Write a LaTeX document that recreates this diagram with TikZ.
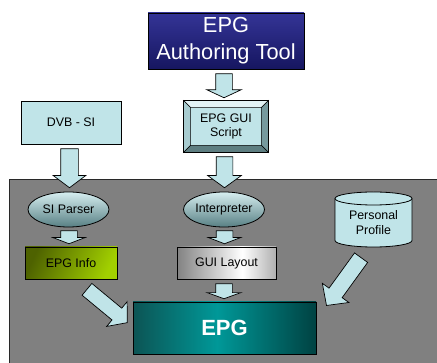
\documentclass[tikz,border=0pt]{standalone}
\usepackage{fontspec}
\setmainfont{Liberation Sans}
\usetikzlibrary{shapes.arrows,shapes.geometric,calc}

\definecolor{pale}{RGB}{192,228,232}
\definecolor{backdrop}{RGB}{128,128,128}
\definecolor{backedge}{RGB}{40,40,40}
\definecolor{navytop}{RGB}{52,52,150}
\definecolor{navybot}{RGB}{22,22,96}
\definecolor{ovaltop}{RGB}{214,238,240}
\definecolor{ovalbot}{RGB}{88,128,132}
\definecolor{olivedark}{RGB}{78,98,0}
\definecolor{olivelight}{RGB}{162,208,0}
\definecolor{layoutgray}{RGB}{130,130,130}
\definecolor{layoutedge}{RGB}{175,175,175}
\definecolor{tealdark}{RGB}{12,84,84}
\definecolor{tealmid}{RGB}{0,152,152}
\definecolor{tealend}{RGB}{0,66,66}
\definecolor{bevtop}{RGB}{226,243,245}
\definecolor{bevleft}{RGB}{168,204,208}
\definecolor{bevright}{RGB}{118,154,158}
\definecolor{bevbot}{RGB}{94,126,129}

% silver sheen across the layout box, teal glow across the EPG box
\pgfdeclarehorizontalshading{layoutshade}{100bp}{color(0bp)=(layoutgray); color(25bp)=(layoutgray); color(58bp)=(white); color(75bp)=(layoutedge); color(100bp)=(layoutedge)}
\pgfdeclarehorizontalshading{epgshade}{100bp}{color(0bp)=(tealdark); color(25bp)=(tealdark); color(48bp)=(tealmid); color(75bp)=(tealend); color(100bp)=(tealend)}

\begin{document}
\begin{tikzpicture}[x=1pt,y=-1pt,
  every node/.style={inner sep=0pt, align=center, font=\fontsize{12.4}{14.5}\selectfont},
  box/.style={rectangle, draw=black, line width=0.8pt},
  oval/.style={ellipse, draw=black, line width=0.8pt, top color=ovaltop, bottom color=ovalbot,
    minimum width=81pt, minimum height=35pt},
  blockarrow/.style={single arrow, draw=black, fill=pale, line width=0.7pt,
    inner xsep=0pt, single arrow head indent=0pt, anchor=tail},
  shaft/.style={inner ysep=#1/2},
]
\useasboundingbox (0,0) rectangle (437,363);
\fill[white] (0,0) rectangle (437,363);

% receiver area
\fill[backdrop] (9,180) rectangle (437,363);
\draw[backedge, line width=1pt] (9,363) -- (9,180) -- (437,180);

% authoring side
\node[box, minimum width=156pt, minimum height=56pt, top color=navytop, bottom color=navybot,
  text=white, font=\fontsize{21.8}{27}\selectfont] (tool) at (226,41) {EPG\\Authoring Tool};
\node[box, fill=pale, minimum width=100pt, minimum height=43pt] (dvb) at (71,122.5) {DVB - SI};
\node[box, fill=pale, minimum width=84pt, minimum height=51pt] (script) at (226,126.5) {EPG GUI\\Script};

% bevelled frame of the script box
\begin{scope}[draw=black, line width=0.5pt]
  \filldraw[fill=bevtop] (script.north west) -- (script.north east) -- ($(script.north east)+(-7,7)$) -- ($(script.north west)+(7,7)$) -- cycle;
  \filldraw[fill=bevleft] (script.north west) -- ($(script.north west)+(7,7)$) -- ($(script.south west)+(7,-7)$) -- (script.south west) -- cycle;
  \filldraw[fill=bevright] (script.north east) -- ($(script.north east)+(-7,7)$) -- ($(script.south east)+(-7,-7)$) -- (script.south east) -- cycle;
  \filldraw[fill=bevbot] (script.south west) -- ($(script.south west)+(7,-7)$) -- ($(script.south east)+(-7,-7)$) -- (script.south east) -- cycle;
\end{scope}
\draw[line width=0.8pt] (script.north west) rectangle (script.south east);

% receiver components
\node[oval] (parser) at (68.5,209.5) {SI Parser};
\node[oval] (interp) at (224,209.5) {Interpreter};

\draw[fill=pale, line width=0.8pt] (335,198.5) -- (335,240.5)
  arc[start angle=180, end angle=360, x radius=38.5pt, y radius=6.5pt] -- (412,198.5)
  arc[start angle=0, end angle=180, x radius=38.5pt, y radius=6.5pt] -- cycle;
\draw[line width=0.8pt] (335,198.5) arc[start angle=180, end angle=360, x radius=38.5pt, y radius=6.5pt];
\node[minimum width=77pt, minimum height=49pt] (prof) at (373.5,222.5) {Personal\\Profile};

\node[box, minimum width=92pt, minimum height=32pt, top color=olivedark, bottom color=olivelight,
  shading angle=65] (info) at (71,263) {EPG Info};
\node[box, minimum width=99pt, minimum height=32pt, shade, shading=layoutshade] (layout) at (226.5,263) {GUI Layout};
\node[box, minimum width=183pt, minimum height=52pt, shade, shading=epgshade, text=white,
  font=\fontsize{22}{26}\selectfont\bfseries] (epg) at (224.5,328) {EPG};

% block arrows
\node[blockarrow, rotate=-90, minimum height=24pt, shaft=16pt,
  single arrow head extend=9pt, single arrow tip angle=130] (a1) at ($(tool.south)+(-2,4)$) {};
\node[blockarrow, rotate=-90, minimum height=39pt, shaft=17pt,
  single arrow head extend=7.5pt, single arrow tip angle=106] (a2) at ($(dvb.south)+(-1.5,4)$) {};
\node[blockarrow, rotate=-90, minimum height=31pt, shaft=16pt,
  single arrow head extend=8.5pt, single arrow tip angle=108] (a3) at ($(script.south)+(-1.5,4)$) {};
\node[blockarrow, rotate=-90, minimum height=13pt, shaft=16pt,
  single arrow head extend=8pt, single arrow tip angle=138] (a4) at ($(parser.south)+(0.5,3)$) {};
\node[blockarrow, rotate=-90, minimum height=13pt, shaft=16pt,
  single arrow head extend=8pt, single arrow tip angle=138] (a5) at ($(interp.south)+(0.5,3)$) {};
\node[blockarrow, rotate=-90, minimum height=15pt, shaft=16pt,
  single arrow head extend=8.5pt, single arrow tip angle=140] (a6) at ($(layout.south)+(-2.5,4)$) {};
\node[blockarrow, rotate=-39.6, minimum height=52.3pt, shaft=14.6pt,
  single arrow head extend=8.4pt, single arrow tip angle=100] (a7) at ($(info.south)+(15.7,9.7)$) {};
\node[blockarrow, rotate=-125.9, minimum height=59pt, shaft=15.5pt,
  single arrow head extend=8.25pt, single arrow tip angle=93] (a8) at ($(prof.south)+(-12.2,10.2)$) {};
\end{tikzpicture}
\end{document}
